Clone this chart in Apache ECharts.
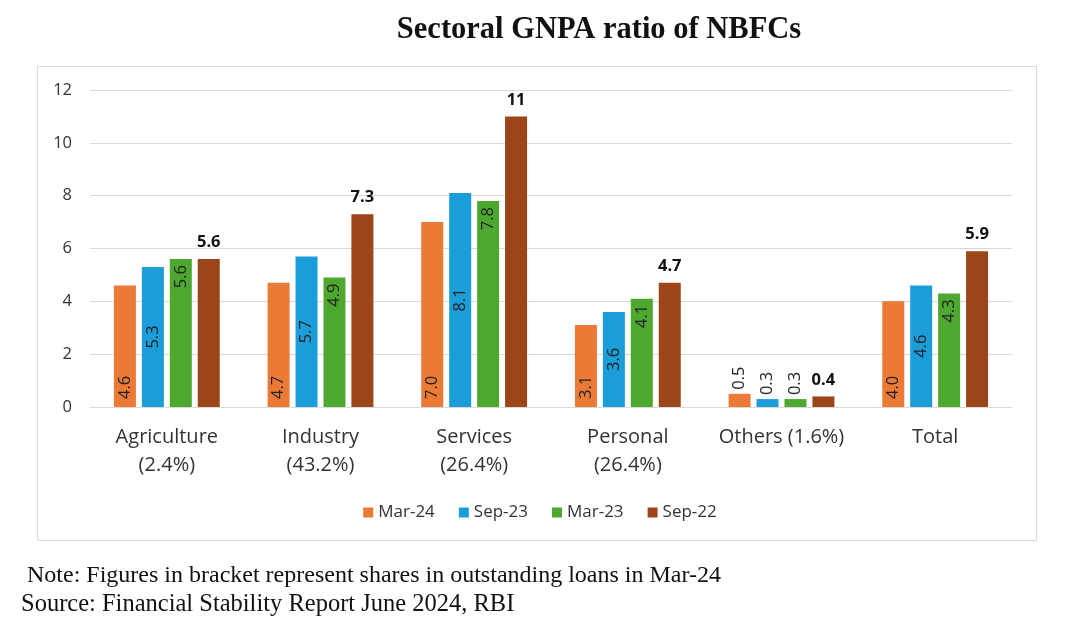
<!DOCTYPE html>
<html><head><meta charset="utf-8">
<script src="https://cdn.jsdelivr.net/npm/echarts@6/dist/echarts.min.js"></script>
<style>html,body{margin:0;padding:0;background:#fff}#c{width:1080px;height:640px}</style>
</head><body><div id="c"></div>
<script>
const categories = ['Agriculture\n(2.4%)','Industry\n(43.2%)','Services\n(26.4%)','Personal\n(26.4%)','Others (1.6%)','Total'];
const seriesNames = ['Mar-24','Sep-23','Mar-23','Sep-22'];
const mar24 = [4.6, 4.7, 7.0, 3.1, 0.5, 4.0];
const sep23 = [5.3, 5.7, 8.1, 3.6, 0.3, 4.6];
const mar23 = [5.6, 4.9, 7.8, 4.1, 0.3, 4.3];
const sep22 = [5.6, 7.3, 11, 4.7, 0.4, 5.9];
const yTicks = {min: 0, max: 12, interval: 2};
const titleText = 'Sectoral GNPA ratio of NBFCs';
const noteLines = ['Note: Figures in bracket represent shares in outstanding loans in Mar-24','Source: Financial Stability Report June 2024, RBI'];

const FONT = '"Open Sans", Roboto, Arial, sans-serif';
const SERIF = '"Liberation Serif","Times New Roman",serif';
const colors = ['#EC7A37','#1A9DD9','#4EA72E','#9B4518'];
const smallIdx = 4;
const fmt1 = p => Number(p.value).toFixed(1);
const topRot = {show:true, position:'top', rotate:90, align:'left', verticalAlign:'middle', distance:4, formatter: fmt1};
const labFont = {color:'#222', fontSize:16.5, fontFamily: FONT};

function insideSeries(name, vals, color, pos) {
  let lab;
  if (pos === 'bottom') lab = {show:true, position:'insideBottom', rotate:90, align:'left', verticalAlign:'middle', distance:8, formatter: fmt1};
  else if (pos === 'top') lab = {show:true, position:'insideTop', rotate:90, align:'right', verticalAlign:'middle', distance:6, formatter: fmt1};
  else lab = {show:true, position:'inside', rotate:90, align:'center', verticalAlign:'middle', formatter: fmt1};
  Object.assign(lab, labFont);
  return {
    name, type:'bar', barWidth:22, barGap:'27%',
    itemStyle:{color},
    label: lab,
    data: vals.map((v,i) => i === smallIdx ? {value:v, label:Object.assign({}, labFont, topRot)} : v)
  };
}

const chart = echarts.init(document.getElementById('c'));
chart.setOption({
  backgroundColor:'#fff',
  animation:false,
  title:{text:titleText, left:594, top:10, textAlign:'center',
    textStyle:{fontFamily:SERIF, fontWeight:'bold', fontSize:30.5, color:'#111'}},
  graphic:[
    {type:'rect', shape:{x:37.5, y:66.5, width:999, height:474}, style:{fill:'none', stroke:'#d9d9d9', lineWidth:1}, z:-1},
    {type:'text', left:27, top:564, style:{text:noteLines[0], font:'24px ' + SERIF, fill:'#111'}},
    {type:'text', left:21, top:592, style:{text:noteLines[1], font:'24.5px ' + SERIF, fill:'#111'}}
  ],
  legend:{data:seriesNames, top:499, left:'center', itemWidth:10, itemHeight:10, itemGap:24, icon:'rect',
    textStyle:{fontSize:17, color:'#333', fontFamily:FONT}},
  grid:{left:90, right:68, top:90, bottom:233},
  xAxis:{type:'category', data:categories,
    axisLine:{lineStyle:{color:'#d9d9d9'}}, axisTick:{show:false},
    axisLabel:{fontSize:20, color:'#333', lineHeight:28, margin:16, fontFamily:FONT, interval:0}},
  yAxis:{type:'value', min:yTicks.min, max:yTicks.max, interval:yTicks.interval,
    axisLine:{show:false}, axisTick:{show:false},
    splitLine:{lineStyle:{color:'#d9d9d9'}},
    axisLabel:{fontSize:16.5, color:'#333', margin:18, fontFamily:FONT}},
  series:[
    insideSeries(seriesNames[0], mar24, colors[0], 'bottom'),
    insideSeries(seriesNames[1], sep23, colors[1], 'middle'),
    insideSeries(seriesNames[2], mar23, colors[2], 'top'),
    {name:seriesNames[3], type:'bar', barWidth:22, barGap:'27%', itemStyle:{color:colors[3]},
     label:{show:true, position:'top', distance:8, fontSize:16.5, fontWeight:'bold', color:'#111', fontFamily:FONT},
     data:sep22}
  ]
});
</script></body></html>
